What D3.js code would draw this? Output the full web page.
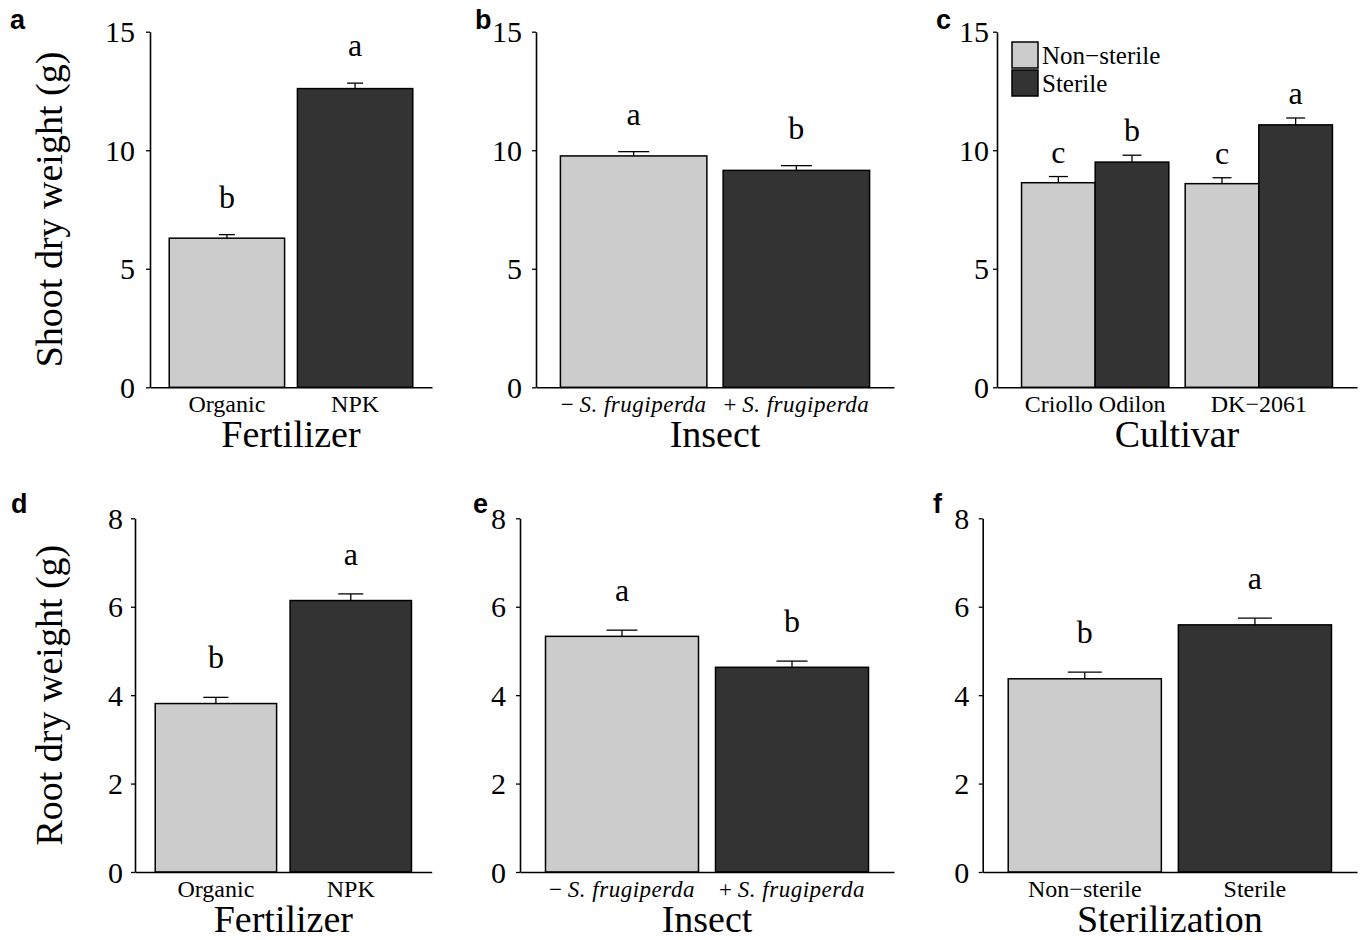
<!DOCTYPE html>
<html>
<head>
<meta charset="utf-8">
<script src="https://cdn.jsdelivr.net/npm/d3@7"></script>
<style>
  body { margin: 0; background: #fff; }
  svg text { font-family: "Liberation Serif", "Times New Roman", serif; fill: #000; }
</style>
</head>
<body>
<svg id="chart" width="1364" height="940"></svg>
<script>
// ---- data ----
const fertilizerCats = ["Organic", "NPK"];
const insectCats = ["− S. frugiperda", "+ S. frugiperda"];
const cultivarCats = ["Criollo Odilon", "DK−2061"];
const sterilizationCats = ["Non−sterile", "Sterile"];

const shootTicks = [0, 5, 10, 15];
const rootTicks = [0, 2, 4, 6, 8];

// a: shoot ~ fertilizer
const shootFert = [6.29, 12.6];
const shootFertSE = [0.15, 0.23];
const shootFertLetters = ["b", "a"];

// b: shoot ~ insect
const shootInsect = [9.76, 9.15];
const shootInsectSE = [0.18, 0.2];
const shootInsectLetters = ["a", "b"];

// c: shoot ~ cultivar x sterilization
const shootNonSterile = [8.63, 8.59];
const shootNonSterileSE = [0.26, 0.25];
const shootNonSterileLetters = ["c", "c"];
const shootSterile = [9.5, 11.07];
const shootSterileSE = [0.29, 0.29];
const shootSterileLetters = ["b", "a"];

// d: root ~ fertilizer
const rootFert = [3.81, 6.14];
const rootFertSE = [0.14, 0.15];
const rootFertLetters = ["b", "a"];

// e: root ~ insect
const rootInsect = [5.33, 4.63];
const rootInsectSE = [0.14, 0.14];
const rootInsectLetters = ["a", "b"];

// f: root ~ sterilization
const rootSteril = [4.37, 5.59];
const rootSterilSE = [0.15, 0.15];
const rootSterilLetters = ["b", "a"];

// ---- styling ----
const lightFill = "#cccccc";
const darkFill = "#333333";
const barFills = [lightFill, darkFill];

const svg = d3.select("#chart");

const topRow = { yTop: 31.7, yBottom: 387.3, yMax: 15, ticks: shootTicks };
const bottomRow = { yTop: 518.3, yBottom: 872, yMax: 8, ticks: rootTicks };

const panels = [
  { ...topRow, tag: "a", tagX: 10, tagY: 29, x0: 150, x1: 432, tickPad: 11, gap: 27, cap: 16,
    cats: fertilizerCats, values: shootFert, se: shootFertSE, letters: shootFertLetters,
    title: "Fertilizer", ylabel: "Shoot dry weight (g)" },
  { ...topRow, tag: "b", tagX: 475, tagY: 29, x0: 536, x1: 894, tickPad: 10, gap: 27, cap: 31,
    cats: insectCats, values: shootInsect, se: shootInsectSE, letters: shootInsectLetters,
    title: "Insect", italic: true },
  { ...topRow, tag: "c", tagX: 936, tagY: 29, x0: 997, x1: 1357, tickPad: 4, gap: 14, cap: 19,
    cats: cultivarCats, title: "Cultivar", legend: true,
    series: [
      { name: "Non−sterile", values: shootNonSterile, se: shootNonSterileSE, letters: shootNonSterileLetters, fill: lightFill },
      { name: "Sterile", values: shootSterile, se: shootSterileSE, letters: shootSterileLetters, fill: darkFill }
    ] },
  { ...bottomRow, tag: "d", tagX: 11, tagY: 513, x0: 135, x1: 431.7, tickPad: 8, gap: 29, cap: 25,
    cats: fertilizerCats, values: rootFert, se: rootFertSE, letters: rootFertLetters,
    title: "Fertilizer", ylabel: "Root dry weight (g)" },
  { ...bottomRow, tag: "e", tagX: 473, tagY: 513, x0: 520, x1: 894, tickPad: 10, gap: 29, cap: 31,
    cats: insectCats, values: rootInsect, se: rootInsectSE, letters: rootInsectLetters,
    title: "Insect", italic: true },
  { ...bottomRow, tag: "f", tagX: 933, tagY: 513, x0: 982.7, x1: 1357, tickPad: 9.5, gap: 29, cap: 34,
    cats: sterilizationCats, values: rootSteril, se: rootSterilSE, letters: rootSterilLetters,
    title: "Sterilization" }
];

function drawPanel(p) {
  const g = svg.append("g");
  const y = d3.scaleLinear().domain([0, p.yMax]).range([p.yBottom, p.yTop]);
  const x = d3.scaleBand().domain(p.cats).range([p.x0, p.x1])
    .paddingInner(0.1).paddingOuter(0.15);

  // flatten into one list of bars
  let bars;
  if (p.series) {
    const xs = d3.scaleBand().domain(p.series.map(s => s.name)).range([0, x.bandwidth()]);
    bars = p.series.flatMap(s => p.cats.map((c, i) => ({
      x: x(c) + xs(s.name), w: xs.bandwidth(), v: s.values[i], se: s.se[i],
      letter: s.letters[i], fill: s.fill
    })));
  } else {
    bars = p.cats.map((c, i) => ({
      x: x(c), w: x.bandwidth(), v: p.values[i], se: p.se[i],
      letter: p.letters[i], fill: barFills[i]
    }));
  }

  // bars
  g.selectAll("rect.bar")
    .data(bars)
    .enter()
    .append("rect")
    .attr("class", "bar")
    .attr("x", d => d.x)
    .attr("y", d => y(d.v))
    .attr("width", d => d.w)
    .attr("height", d => y(0) - y(d.v))
    .attr("fill", d => d.fill)
    .attr("stroke", "#000")
    .attr("stroke-width", 1.5);

  // error bars (upper whisker only)
  const err = g.selectAll("g.err").data(bars).enter().append("g").attr("class", "err");
  err.append("line")
    .attr("x1", d => d.x + d.w / 2).attr("x2", d => d.x + d.w / 2)
    .attr("y1", d => y(d.v)).attr("y2", d => y(d.v + d.se))
    .attr("stroke", "#000").attr("stroke-width", 1.3);
  err.append("line")
    .attr("x1", d => d.x + d.w / 2 - p.cap / 2).attr("x2", d => d.x + d.w / 2 + p.cap / 2)
    .attr("y1", d => y(d.v + d.se)).attr("y2", d => y(d.v + d.se))
    .attr("stroke", "#000").attr("stroke-width", 1.3);

  // significance letters
  g.selectAll("text.sig")
    .data(bars)
    .enter()
    .append("text")
    .attr("class", "sig")
    .attr("x", d => d.x + d.w / 2)
    .attr("y", d => y(d.v + d.se) - p.gap)
    .attr("text-anchor", "middle")
    .style("font-size", "32px")
    .text(d => d.letter);

  // y axis
  const yAxis = g.append("g")
    .attr("transform", `translate(${p.x0},0)`)
    .call(d3.axisLeft(y).tickValues(p.ticks).tickSize(4).tickSizeOuter(0).tickPadding(p.tickPad));
  yAxis.attr("font-family", null).attr("font-size", null);
  yAxis.select(".domain").attr("stroke", "#000").attr("stroke-width", 1.6);
  yAxis.selectAll(".tick line").attr("stroke", "#000").attr("stroke-width", 1.3);
  yAxis.selectAll(".tick text").style("font-size", "30px").attr("dy", "0.34em");

  // x axis
  const xAxis = g.append("g")
    .attr("transform", `translate(0,${p.yBottom})`)
    .call(d3.axisBottom(x).tickSize(0).tickSizeOuter(0));
  xAxis.attr("font-family", null).attr("font-size", null);
  xAxis.select(".domain").attr("stroke", "#000").attr("stroke-width", 1.6);
  const xt = xAxis.selectAll(".tick text")
    .attr("y", 25).attr("dy", 0)
    .style("font-size", p.italic ? "23px" : "24px");
  if (p.italic) {
    xt.text(null).each(function (d) {
      const sp = d.indexOf(" ");
      const t = d3.select(this);
      t.append("tspan").text(d.slice(0, sp) + " ");
      t.append("tspan").style("font-style", "italic").style("letter-spacing", "0.5px")
        .text(d.slice(sp + 1));
    });
  }

  // x title
  g.append("text")
    .attr("x", (p.x0 + p.x1) / 2)
    .attr("y", p.yBottom + 60)
    .attr("text-anchor", "middle")
    .style("font-size", "38px")
    .text(p.title);

  // y title
  if (p.ylabel) {
    g.append("text")
      .attr("transform", `translate(62,${(p.yTop + p.yBottom) / 2}) rotate(-90)`)
      .attr("text-anchor", "middle")
      .style("font-size", "38px")
      .text(p.ylabel);
  }

  // panel tag
  g.append("text")
    .attr("x", p.tagX)
    .attr("y", p.tagY)
    .style("font-family", "'Liberation Sans', Arial, sans-serif")
    .style("font-weight", "bold")
    .style("font-size", "27px")
    .text(p.tag);

  // legend
  if (p.legend) {
    const lg = g.append("g").attr("transform", "translate(1012,42)");
    const items = lg.selectAll("g").data(p.series).enter().append("g")
      .attr("transform", (d, i) => `translate(0,${i * 28})`);
    items.append("rect")
      .attr("width", 26).attr("height", 26)
      .attr("fill", d => d.fill)
      .attr("stroke", "#000").attr("stroke-width", 1.5);
    items.append("text")
      .attr("x", 30).attr("y", 22)
      .style("font-size", "25px")
      .text(d => d.name);
  }
}

panels.forEach(drawPanel);
</script>
</body>
</html>
